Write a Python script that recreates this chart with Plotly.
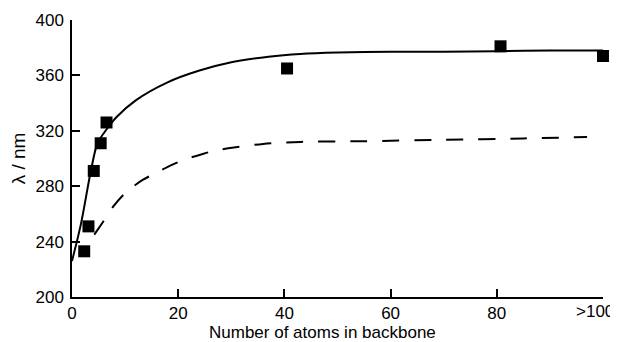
import plotly.graph_objects as go

# Measured data points (squares)
pts_x = [2.3, 3.1, 4.1, 5.4, 6.5, 40.5, 80.7, 100]
pts_y = [233, 251, 291, 311, 326, 365, 381, 374]

# Solid fitted curve
solid_x = [0, 1.7, 3.6, 4.8, 6.7, 8.4, 12, 18, 24, 30, 37, 43, 50, 60, 70, 80, 90, 100]
solid_y = [226, 253, 292, 311, 322, 330, 342, 355, 363.5, 369.5, 373.5, 375.5, 376.5, 377, 377, 377.5, 378, 378]

# Dashed curve
dash_x = [4.2, 5.8, 7.9, 10, 13.3, 15.8, 18.6, 21.4, 24, 26.7, 30.5, 36, 43, 55, 70, 85, 97]
dash_y = [245, 254, 266, 275, 284.5, 289.5, 295, 299.6, 302.5, 305.5, 308, 310.5, 312, 312.5, 313.5, 314.5, 315.5]

x_tickvals = [0, 20, 40, 60, 80, 100]
x_ticktext = ["0", "20", "40", "60", "80", ""]
last_label = ">100"
y_tickvals = [200, 240, 280, 320, 360, 400]

FONT = "Liberation Sans, Arial, sans-serif"

fig = go.Figure()
fig.add_trace(go.Scatter(x=solid_x, y=solid_y, mode="lines",
                         line=dict(color="black", width=2, shape="spline", smoothing=0.8),
                         showlegend=False, hoverinfo="skip"))
fig.add_trace(go.Scatter(x=dash_x, y=dash_y, mode="lines",
                         line=dict(color="black", width=2, dash="17px,15px", shape="spline", smoothing=0.8),
                         showlegend=False, hoverinfo="skip"))
fig.add_trace(go.Scatter(x=pts_x, y=pts_y, mode="markers",
                         marker=dict(symbol="square", size=12, color="black"),
                         showlegend=False, cliponaxis=False))

fig.update_layout(
    width=610, height=334,
    margin=dict(l=64, r=15, t=12, b=45),
    paper_bgcolor="white", plot_bgcolor="white",
    font=dict(family=FONT, size=17, color="black"),
    xaxis=dict(range=[0, 100], tickvals=x_tickvals, ticktext=x_ticktext,
               ticks="inside", ticklen=8, tickwidth=1.5, tickcolor="black",
               showline=True, linecolor="black", linewidth=1.5,
               showgrid=False, zeroline=False, automargin=False),
    yaxis=dict(range=[200, 400], tickvals=y_tickvals,
               ticks="inside", ticklen=8, tickwidth=1.5, tickcolor="black",
               showline=True, linecolor="black", linewidth=1.5,
               showgrid=False, zeroline=False, automargin=False,
               ticklabelstandoff=3,
               title=dict(text="λ / nm", standoff=10, font=dict(size=19))),
    annotations=[
        dict(text="Number of atoms in backbone", xref="paper", yref="paper",
             x=0.472, y=0, yshift=-24, xanchor="center", yanchor="top",
             showarrow=False, font=dict(size=17)),
        dict(text=last_label, xref="x", yref="paper", x=100, y=0,
             xanchor="right", yanchor="top", xshift=13, yshift=-3,
             showarrow=False, font=dict(size=17)),
    ],
)

fig.write_html("out.html")
